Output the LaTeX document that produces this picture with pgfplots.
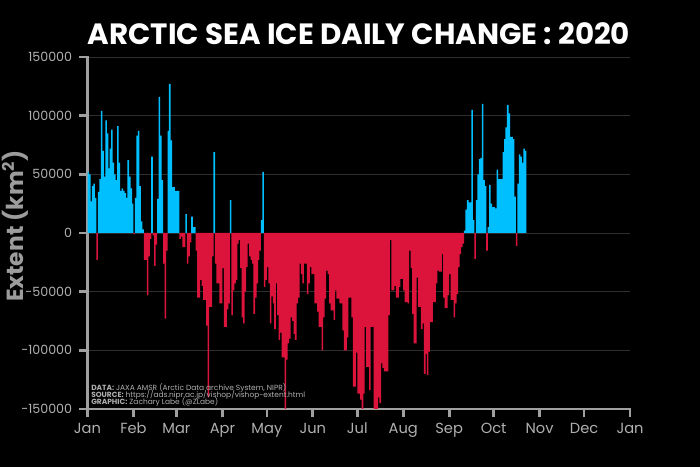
\documentclass[border=0pt]{standalone}
\usepackage{fontspec}
\setmainfont{Poppins}
\usepackage{pgfplots}
\usepackage{pgfplotstable}
\pgfplotsset{compat=1.18}

\definecolor{icepos}{HTML}{00BFFF}
\definecolor{iceneg}{HTML}{DC143C}
\definecolor{spine}{HTML}{A0A0A0}
\definecolor{gridc}{HTML}{2E2E2E}
\definecolor{ticktext}{HTML}{B0B0B0}
\definecolor{labelc}{HTML}{9C9C9C}

% daily change of extent (km^2), day 0 = 1 Jan 2020
\pgfplotstableread{
d v
0 52000
1 50000
2 27000
3 40000
4 42000
5 30000
6 -23000
7 35000
8 46000
9 104000
10 70000
11 48000
12 96000
13 85000
14 55000
15 72000
16 88000
17 60000
18 50000
19 45000
20 91000
21 60000
22 36000
23 38000
24 36000
25 34000
26 30000
27 62000
28 48000
29 38000
30 25000
31 -1000
32 30000
33 83000
34 87000
35 40000
36 10000
37 3000
38 -23000
39 -23000
40 -53000
41 -20000
42 -5000
43 65000
44 -2000
45 -28000
46 -10000
47 29000
48 116000
49 83000
50 45000
51 -26000
52 -73000
53 -15000
54 87000
55 127000
56 79000
57 39000
58 39000
59 36000
60 36000
61 36000
62 -5000
63 -3000
64 -12000
65 -12000
66 16000
67 -26000
68 -20000
69 -8000
70 14000
71 5000
72 5000
73 -15000
74 -55000
75 -55000
76 -40000
77 -45000
78 -57000
79 -57000
80 -79000
81 -140000
82 -63000
83 -63000
84 -20000
85 69000
86 -26000
87 -43000
88 -43000
89 -60000
90 -60000
91 -30000
92 -80000
93 -80000
94 -65000
95 -60000
96 28000
97 -70000
98 -49000
99 -43000
100 -40000
101 -9000
102 -6000
103 -30000
104 -72000
105 -77000
106 -50000
107 -29000
108 -9000
109 -20000
110 -23000
111 -26000
112 -69000
113 -55000
114 -43000
115 -23000
116 -15000
117 11000
118 52000
119 -46000
120 -40000
121 -29000
122 -43000
123 -77000
124 -54000
125 -60000
126 -82000
127 -43000
128 -70000
129 -91000
130 -85000
131 -106000
132 -106000
133 -150000
134 -108000
135 -94000
136 -90000
137 -72000
138 -75000
139 -86000
140 -91000
141 -60000
142 -55000
143 -26000
144 -35000
145 -43000
146 -26000
147 -26000
148 -52000
149 -43000
150 -29000
151 -35000
152 -35000
153 -60000
154 -60000
155 -67000
156 -80000
157 -80000
158 -100000
159 -72000
160 -56000
161 -32000
162 -35000
163 -60000
164 -66000
165 -66000
166 -74000
167 -49000
168 -56000
169 -56000
170 -60000
171 -60000
172 -83000
173 -100000
174 -100000
175 -89000
176 -55000
177 -55000
178 -72000
179 -131000
180 -131000
181 -102000
182 -137000
183 -137000
184 -142000
185 -150000
186 -137000
187 -80000
188 -114000
189 -114000
190 -134000
191 -80000
192 -80000
193 -150000
194 -150000
195 -150000
196 -140000
197 -145000
198 -111000
199 -115000
200 -118000
201 -118000
202 -118000
203 -70000
204 -6000
205 -49000
206 -49000
207 -45000
208 -55000
209 -55000
210 -46000
211 -39000
212 -39000
213 -49000
214 -59000
215 -59000
216 -60000
217 -15000
218 -30000
219 -69000
220 -94000
221 -94000
222 -38000
223 -63000
224 -63000
225 -82000
226 -77000
227 -120000
228 -103000
229 -121000
230 -101000
231 -76000
232 -76000
233 -59000
234 -59000
235 -43000
236 -32000
237 -33000
238 -33000
239 -18000
240 -55000
241 -64000
242 -64000
243 -53000
244 -35000
245 -57000
246 -57000
247 -72000
248 -60000
249 -52000
250 -29000
251 -18000
252 -12000
253 -9000
254 2000
255 20000
256 28000
257 26000
258 26000
259 105000
260 11000
261 -22000
262 28000
263 50000
264 63000
265 64000
266 110000
267 45000
268 40000
269 -15000
270 5000
271 41000
272 25000
273 22000
274 22000
275 21000
276 54000
277 46000
278 46000
279 46000
280 69000
281 80000
282 90000
283 109000
284 102000
285 82000
286 82000
287 80000
288 31000
289 -11000
290 42000
291 67000
292 65000
293 60000
294 72000
295 70000
}\icedata

\begin{document}
\begin{tikzpicture}[x=0.75pt,y=0.75pt]
\useasboundingbox (0,0) rectangle (700,467);
\fill[black] (0,0) rectangle (700,467);
\begin{axis}[
    at={(65.625pt,43.5pt)}, anchor=south west,
    scale only axis,
    width=406.9pt, height=264pt,
    xmin=0, xmax=366,
    ymin=-150000, ymax=150000,
    axis lines*=left,
    axis line style={spine, line width=2pt, line cap=rect},
    xtick={0,31,60,91,121,152,182,213,244,274,305,335,366},
    xticklabels={Jan,Feb,Mar,Apr,May,Jun,Jul,Aug,Sep,Oct,Nov,Dec,Jan},
    ytick={-150000,-100000,-50000,0,50000,100000,150000},
    scaled y ticks=false,
    yticklabel style={/pgf/number format/fixed, /pgf/number format/1000 sep={}, xshift=-2pt},
    /pgf/number format/assume math mode=true,
    tick align=outside,
    major tick length=6pt,
    tick style={spine, line width=2pt},
    ymajorgrids,
    grid style={gridc, line width=0.7pt},
    tick label style={ticktext, font=\fontsize{9.5}{11}\selectfont},
    xticklabel style={font=\fontsize{11}{13}\selectfont, yshift=-1pt},
]
\addplot[ybar, bar width=1.05, bar shift=0pt, draw=none, fill=icepos,
    restrict y to domain=0:200000]
    table[x expr=\thisrow{d}+0.5, y=v] {\icedata};
\addplot[ybar, bar width=1.05, bar shift=0pt, draw=none, fill=iceneg,
    restrict y to domain=-200000:0]
    table[x expr=\thisrow{d}+0.5, y=v] {\icedata};
\end{axis}
\node[white, font=\bfseries\fontsize{22}{26}\selectfont, anchor=base] at (359,422) {ARCTIC SEA ICE DAILY CHANGE : 2020};
\node[labelc, font=\bfseries\fontsize{17.5}{20}\selectfont, rotate=90] at (15,241) {Extent (km\textsuperscript{2})};
\node[anchor=north west, inner sep=0pt, align=left, text=ticktext,
      font={\fontsize{5.6}{5.5}\selectfont\lineskiplimit-10pt}] at (91,84)
  {\textbf{DATA:} JAXA AMSR (Arctic Data archive System, NIPR)\\
   \textbf{SOURCE:} https://ads.nipr.ac.jp/vishop/vishop-extent.html\\
   \textbf{GRAPHIC:} Zachary Labe (@ZLabe)};
\end{tikzpicture}
\end{document}
